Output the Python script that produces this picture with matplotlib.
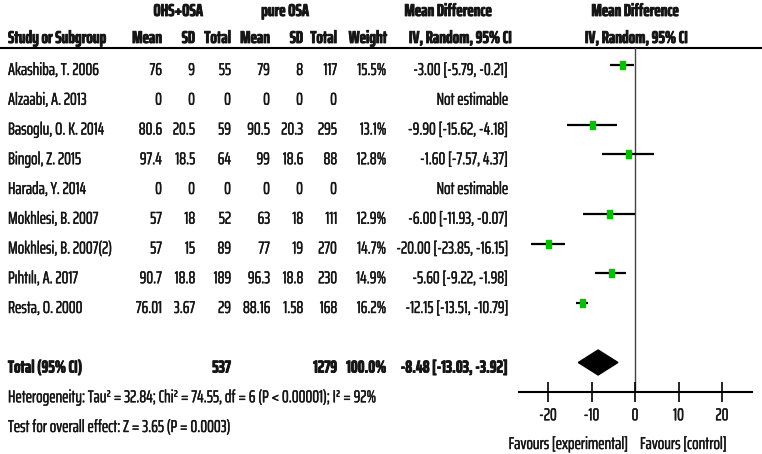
import os
import numpy as np
import matplotlib
matplotlib.use("Agg")
import matplotlib.pyplot as plt
import matplotlib.patheffects as pe
from matplotlib.path import Path
from matplotlib.textpath import TextPath
from matplotlib import font_manager as fm

# ---------------- data ----------------
studies = ["Akashiba, T. 2006", "Alzaabi, A. 2013", "Basoglu, O. K. 2014", "Bingol, Z. 2015",
           "Harada, Y. 2014", "Mokhlesi, B. 2007", "Mokhlesi, B. 2007(2)", "Pıhtılı, A. 2017",
           "Resta, O. 2000"]
exp_mean = [76, 0, 80.6, 97.4, 0, 57, 57, 90.7, 76.01]
exp_sd = [9, 0, 20.5, 18.5, 0, 18, 15, 18.8, 3.67]
exp_n = [55, 0, 59, 64, 0, 52, 89, 189, 29]
ctl_mean = [79, 0, 90.5, 99, 0, 63, 77, 96.3, 88.16]
ctl_sd = [8, 0, 20.3, 18.6, 0, 18, 19, 18.8, 1.58]
ctl_n = [117, 0, 295, 88, 0, 111, 270, 230, 168]
weights = [15.5, None, 13.1, 12.8, None, 12.9, 14.7, 14.9, 16.2]
md = [-3.00, None, -9.90, -1.60, None, -6.00, -20.00, -5.60, -12.15]
ci_lo = [-5.79, None, -15.62, -7.57, None, -11.93, -23.85, -9.22, -13.51]
ci_hi = [-0.21, None, -4.18, 4.37, None, -0.07, -16.15, -1.98, -10.79]
total_exp_n = 537
total_ctl_n = 1279
total_weight = 100.0
total_md, total_lo, total_hi = -8.48, -13.03, -3.92
heterogeneity = "Heterogeneity: Tau² = 32.84; Chi² = 74.55, df = 6 (P < 0.00001); I² = 92%"
overall = "Test for overall effect: Z = 3.65 (P = 0.0003)"
xticks = [-20, -10, 0, 10, 20]

# ---------------- fonts: choose a narrow sans whose proportions fit ----------------
PROBE = "-20.00 [-23.85, -16.15]"
TARGET_W, TARGET_CAP = 112.0, 12.0   # pixels


def _wt(f):
    w = f.weight
    if isinstance(w, str):
        return {"normal": 400, "regular": 400, "bold": 700, "book": 400,
                "medium": 500, "light": 300}.get(w.lower(), 400)
    return int(w)


def _is_upright(f):
    fn = os.path.basename(f.fname).lower()
    return f.style == "normal" and "italic" not in fn and "oblique" not in fn


def _narrowish(f):
    key = (f.name + " " + os.path.basename(f.fname)).lower()
    return ("narrow" in key) or ("condensed" in key) or (f.stretch not in ("normal", 500, "medium"))


cands = []
for f in fm.fontManager.ttflist:
    if not _is_upright(f) or not _narrowish(f):
        continue
    w = _wt(f)
    if w < 350 or w > 450:
        continue
    try:
        prop = fm.FontProperties(fname=f.fname)
        wext = TextPath((0, 0), PROBE, size=100, prop=prop).get_extents().width / 100.0
        cap = TextPath((0, 0), "H", size=100, prop=prop).get_extents().height / 100.0
        TextPath((0, 0), "Pıhtılı²", size=100, prop=prop)
    except Exception:
        continue
    size_px = TARGET_W / wext
    cands.append((abs(cap * size_px - TARGET_CAP), f.fname, f))

reg = None
bold = None
if cands:
    cands.sort(key=lambda c: (c[0], c[1]))
    reg = cands[0][2]
    best_b = None
    for f in fm.fontManager.ttflist:
        if f.name == reg.name and _is_upright(f) and _wt(f) >= 600 and f.stretch == reg.stretch:
            d = abs(_wt(f) - 700)
            if best_b is None or d < best_b[0]:
                best_b = (d, f)
    if best_b is not None:
        bold = best_b[1]


def make_fp(size, is_bold):
    if reg is None:
        return fm.FontProperties(family="Liberation Sans", size=size,
                                 weight="bold" if is_bold else "normal")
    if is_bold:
        if bold is not None:
            return fm.FontProperties(fname=bold.fname, size=size)
        return fm.FontProperties(fname=reg.fname, size=size, weight="bold")
    return fm.FontProperties(fname=reg.fname, size=size)


TXT = "#151515"
W, H = 762, 454
fig = plt.figure(figsize=(W / 100, H / 100), dpi=100)
fig.patch.set_facecolor("white")

renderer = fig.canvas.get_renderer()
probe = fig.text(0, 0, PROBE, fontproperties=make_fp(10, False))
w10 = probe.get_window_extent(renderer).width
probe.remove()
FS = 10 * TARGET_W / w10
fp_reg = make_fp(FS, False)
fp_bold = make_fp(FS, True)
THICK = [pe.withStroke(linewidth=0.3, foreground=TXT)]
THICK_B = [pe.withStroke(linewidth=0.6, foreground=TXT)]

tab = fig.add_axes([0, 0, 1, 1])
tab.set_xlim(0, W)
tab.set_ylim(H, 0)
tab.axis("off")

ROW0, DROW = 65.0, 29.75


def base(i):
    return ROW0 + DROW * i + 10


def fmt(v):
    return format(v, "g")


def T(x, y, s, ha, is_bold=False):
    t = tab.text(x, y, s, ha=ha, va="baseline", color=TXT,
                 fontproperties=fp_bold if is_bold else fp_reg)
    t.set_path_effects(THICK_B if is_bold else THICK)
    return t


# headers
T(178, 16, "OHS+OSA", "center", True)
T(285, 16, "pure OSA", "center", True)
T(448, 16, "Mean Difference", "center", True)
T(635, 16, "Mean Difference", "center", True)
T(8, 43, "Study or Subgroup", "left", True)
col_right = [162, 195, 231, 270, 303, 337]
for x, lab in zip(col_right, ["Mean", "SD", "Total", "Mean", "SD", "Total"]):
    T(x, 43, lab, "right", True)
T(387, 43, "Weight", "right", True)
T(460, 43, "IV, Random, 95% CI", "center", True)
T(636, 43, "IV, Random, 95% CI", "center", True)
tab.plot([0, W], [48, 48], color="black", lw=1.5, solid_capstyle="butt")

for i, s in enumerate(studies):
    y = base(i)
    T(8, y, s, "left")
    vals = [exp_mean[i], exp_sd[i], exp_n[i], ctl_mean[i], ctl_sd[i], ctl_n[i]]
    for x, v in zip(col_right, vals):
        T(x, y, fmt(v), "right")
    if weights[i] is not None:
        T(386, y, f"{weights[i]:.1f}%", "right")
        T(508, y, f"{md[i]:.2f} [{ci_lo[i]:.2f}, {ci_hi[i]:.2f}]", "right")
    else:
        T(508, y, "Not estimable", "right")

ti = len(studies) + 1
T(8, base(ti), "Total (95% CI)", "left", True)
T(231, base(ti), str(total_exp_n), "right", True)
T(337, base(ti), str(total_ctl_n), "right", True)
T(386, base(ti), f"{total_weight:.1f}%", "right", True)
T(508, base(ti), f"{total_md:.2f} [{total_lo:.2f}, {total_hi:.2f}]", "right", True)
T(8, base(ti + 1), heterogeneity, "left")
T(8, base(ti + 2), overall, "left")

# ---------------- forest axes ----------------
x_left_px, x_right_px = 519, 752
top_px, bot_px = 48, 392
x0_px, px_per_unit = 635, 4.35
ax = fig.add_axes([x_left_px / W, 1 - bot_px / H, (x_right_px - x_left_px) / W, (bot_px - top_px) / H])
ax.set_xlim((x_left_px - x0_px) / px_per_unit, (x_right_px - x0_px) / px_per_unit)
ax.set_ylim((bot_px - ROW0) / DROW, (top_px - ROW0) / DROW)
ax.patch.set_alpha(0)
for sp in ["top", "right", "left"]:
    ax.spines[sp].set_visible(False)
ax.spines["bottom"].set_linewidth(1.5)
ax.spines["bottom"].set_color("black")
ax.set_yticks([])
ax.set_xticks(xticks)
ax.set_xticklabels([str(t) for t in xticks], fontproperties=fp_reg, color=TXT)
for lab in ax.get_xticklabels():
    lab.set_path_effects(THICK)
ax.tick_params(axis="x", direction="inout", length=14, width=1.2, pad=4)
ax.axvline(0, color="#444444", lw=1.0, zorder=1)

rect = Path([(-0.3, -0.5), (0.3, -0.5), (0.3, 0.5), (-0.3, 0.5), (-0.3, -0.5)],
            [Path.MOVETO, Path.LINETO, Path.LINETO, Path.LINETO, Path.CLOSEPOLY])
for i in range(len(studies)):
    if md[i] is None:
        continue
    ax.plot([ci_lo[i], ci_hi[i]], [i, i], color="black", lw=1.6, solid_capstyle="butt", zorder=2)
    ax.plot([md[i]], [i], marker=rect, markersize=6, color="#00c000", mec="#00c000", zorder=3)

dh = 0.42
ax.fill([total_lo, total_md, total_hi, total_md], [ti, ti - dh, ti, ti + dh], color="black", zorder=3)

T(628, 449, "Favours [experimental]", "right")
T(640, 449, "Favours [control]", "left")

fig.savefig("out.png", dpi=100, facecolor="white")
